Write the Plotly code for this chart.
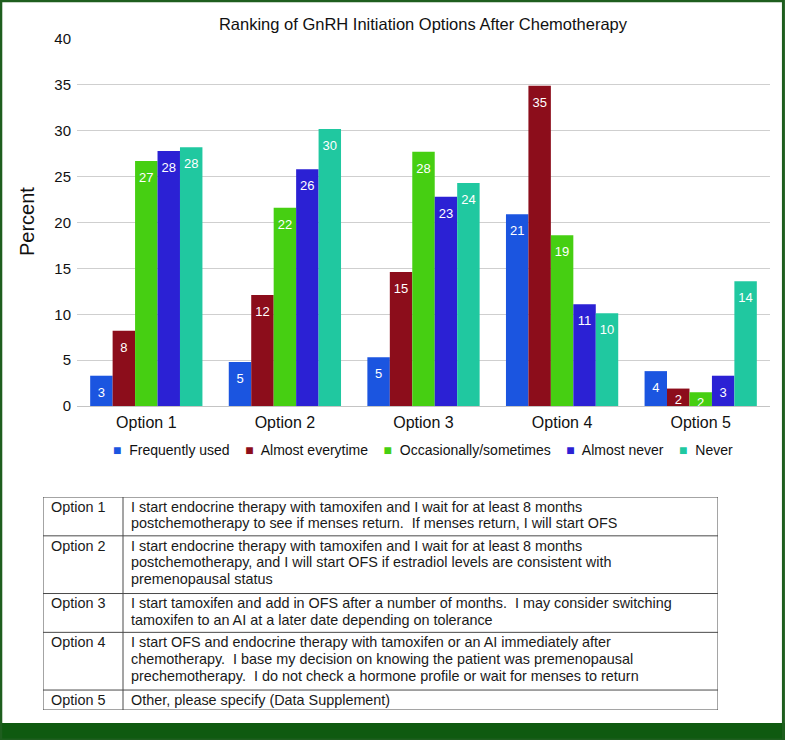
import plotly.graph_objects as go

# ---------------- data ----------------
categories = ["Option 1", "Option 2", "Option 3", "Option 4", "Option 5"]
series_names = ["Frequently used", "Almost everytime", "Occasionally/sometimes",
                "Almost never", "Never"]
frequently_used = [3.3, 4.8, 5.3, 20.9, 3.8]
almost_everytime = [8.2, 12.1, 14.6, 34.9, 1.9]
occasionally = [26.7, 21.6, 27.7, 18.6, 1.5]
almost_never = [27.8, 25.8, 22.8, 11.1, 3.3]
never = [28.2, 30.2, 24.3, 10.1, 13.6]
series_values = [frequently_used, almost_everytime, occasionally, almost_never, never]
series_colors = ["#1b55e0", "#8c0d1b", "#46cf12", "#2b21d4", "#20c8a0"]

y_ticks = [0, 5, 10, 15, 20, 25, 30, 35, 40]

table_options = categories
table_lines = [
    ["I start endocrine therapy with tamoxifen and I wait for at least 8 months",
     "postchemotherapy to see if menses return.  If menses return, I will start OFS"],
    ["I start endocrine therapy with tamoxifen and I wait for at least 8 months",
     "postchemotherapy, and I will start OFS if estradiol levels are consistent with",
     "premenopausal status"],
    ["I start tamoxifen and add in OFS after a number of months.  I may consider switching",
     "tamoxifen to an AI at a later date depending on tolerance"],
    ["I start OFS and endocrine therapy with tamoxifen or an AI immediately after",
     "chemotherapy.  I base my decision on knowing the patient was premenopausal",
     "prechemotherapy.  I do not check a hormone profile or wait for menses to return"],
    ["Other, please specify (Data Supplement)"],
]

FONT = "Liberation Sans, Arial, Helvetica, sans-serif"
W, H = 785, 740

# value labels sit a little below the bar top (tiny invisible first line),
# except on very short bars where there is no room for the extra gap
SPACER = "<span style='font-size:1px'>\u00a0</span><br>"
SHORT_BAR = 2.5


def bar_labels(vals):
    return [(SPACER if v > SHORT_BAR else "") + str(int(v + 0.5)) for v in vals]


fig = go.Figure()
for name, vals, col in zip(series_names, series_values, series_colors):
    fig.add_trace(go.Bar(
        x=categories, y=vals, name=name, marker=dict(color=col, line=dict(width=0)),
        text=bar_labels(vals), texttemplate="%{text}",
        textposition="inside", insidetextanchor="end",
        textangle=0, constraintext="none",
        textfont=dict(color="white", size=13, family=FONT),
        hoverinfo="skip", showlegend=False,
    ))

annotations = []

# ---------------- legend (row of coloured squares + names) ----------------
legend_text = "\u00a0\u00a0\u00a0\u00a0".join(
    f"<span style='color:{c}'>\u25a0</span>\u00a0 {n}"
    for n, c in zip(series_names, series_colors))
annotations.append(dict(xref="paper", yref="paper", x=423 / W, y=1 - 450 / H,
                        xanchor="center", yanchor="middle", text=legend_text,
                        showarrow=False, font=dict(size=14, color="#111", family=FONT)))

# ---------------- table (secondary hidden axes, 1 unit = 1 px) ----------------
ROW_LINE_H = 18.9
ROW_PAD = 1.1
TEXT_LINE_H = 16.8
TEXT_TOP = 9.7
TABLE_W = 675
COL1_W = 80
row_heights = [len(lines) * ROW_LINE_H + ROW_PAD for lines in table_lines]
row_tops = [sum(row_heights[:i]) for i in range(len(row_heights))]
total_h = sum(row_heights)

shapes = []
line_style = dict(color="#4a4a4a", width=1)
shapes.append(dict(type="rect", xref="x2", yref="y2", x0=0, x1=TABLE_W, y0=0, y1=total_h,
                   line=line_style, layer="above"))
shapes.append(dict(type="line", xref="x2", yref="y2", x0=COL1_W, x1=COL1_W, y0=0, y1=total_h,
                   line=line_style))
for t in row_tops[1:]:
    shapes.append(dict(type="line", xref="x2", yref="y2", x0=0, x1=TABLE_W, y0=t, y1=t,
                       line=line_style))

tfont = dict(size=14.4, color="#1a1a1a", family=FONT)
for opt, lines, top in zip(table_options, table_lines, row_tops):
    annotations.append(dict(xref="x2", yref="y2", x=0, y=top + TEXT_TOP, xanchor="left",
                            yanchor="middle", xshift=6, text=opt, showarrow=False,
                            font=tfont))
    for i, ln in enumerate(lines):
        annotations.append(dict(xref="x2", yref="y2", x=COL1_W,
                                y=top + TEXT_TOP + i * TEXT_LINE_H,
                                xanchor="left", yanchor="middle", xshift=6,
                                text=ln.replace("  ", "\u00a0 "), showarrow=False,
                                font=tfont))

# y-axis title
annotations.append(dict(xref="paper", yref="paper", x=27 / W, y=1 - 222 / H,
                        xanchor="center", yanchor="middle",
                        text="Percent", textangle=-90, showarrow=False,
                        font=dict(size=20, color="#111", family=FONT)))

# frame and bottom band
shapes.append(dict(type="rect", xref="paper", yref="paper", x0=0, x1=1, y0=0, y1=17 / H,
                   fillcolor="#0f5a10", line=dict(width=0), layer="above"))
shapes.append(dict(type="rect", xref="paper", yref="paper", x0=0.001, x1=0.998, y0=0, y1=0.999,
                   line=dict(color="#1e5e1e", width=3), fillcolor="rgba(0,0,0,0)"))

fig.update_layout(
    width=W, height=H, autosize=False,
    margin=dict(l=0, r=0, t=0, b=0, autoexpand=False),
    paper_bgcolor="white", plot_bgcolor="white",
    font=dict(family=FONT, color="#111"),
    barmode="group", bargap=0.19, bargroupgap=0,
    title=dict(text="Ranking of GnRH Initiation Options After Chemotherapy",
               x=423 / W, xanchor="center", y=1 - 24 / H, yanchor="middle",
               font=dict(size=16.5, color="#111", family=FONT)),
    xaxis=dict(domain=[77 / W, 770 / W], showgrid=False, showline=False, ticks="",
               tickfont=dict(size=16, color="#111"), fixedrange=True,
               automargin=False, ticklabelstandoff=5),
    yaxis=dict(domain=[1 - 406 / H, 1 - 39 / H], range=[0, 40], tickvals=y_ticks,
               showgrid=True, gridcolor="#cfcfcf", gridwidth=1,
               zeroline=True, zerolinecolor="#c4c4c4", zerolinewidth=1,
               showline=False, ticks="", tickfont=dict(size=15, color="#111"),
               fixedrange=True, automargin=False, ticklabelstandoff=5),
    xaxis2=dict(domain=[43 / W, 718 / W], range=[0, TABLE_W], visible=False,
                anchor="y2", fixedrange=True, automargin=False),
    yaxis2=dict(domain=[1 - 710 / H, 1 - 497 / H], range=[total_h, 0], visible=False,
                anchor="x2", fixedrange=True, automargin=False),
    showlegend=False,
    shapes=shapes, annotations=annotations,
)

fig.write_html("out.html", config={"responsive": False, "displayModeBar": False},
               post_script="document.body.style.margin='0';document.body.style.padding='0';"
                           "document.documentElement.style.overflow='hidden';")
